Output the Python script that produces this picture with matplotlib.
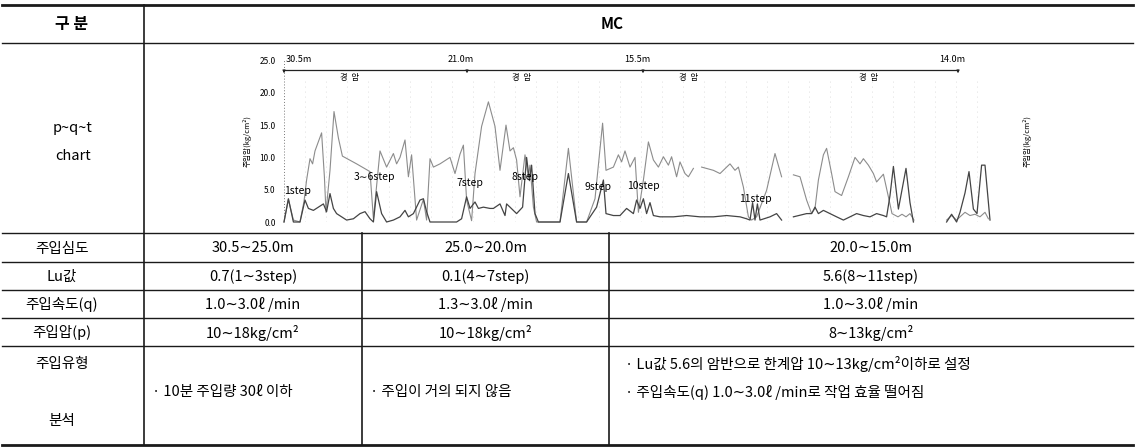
import matplotlib
matplotlib.use("Agg")
import matplotlib.pyplot as plt
import numpy as np

plt.rcParams['font.family'] = ['Noto Sans CJK KR', 'DejaVu Sans']

nan = np.nan
# ---------------- chart data (time in min, value) ----------------
p_t = [0, 2.2, 4.7, 8, 10, 11.3, 13, 14.3, 15.5, 18.8, 20.2, 21, 23, 25, 27.2, 29.2,
       36.3, 43, 44.7, 48, 51.3, 54.7, 56.3, 58, 60.5, 62.2, 63.8, 66.3, 69.7, 71.3,
       73, 74.7, 78, 83, 85.5, 88, 89.7, 91.3, 93.8, 95.5, 98.8, 102.2, 105.5, 108,
       111, 113, 114.7, 116.3, 118, 120.5, 122.2, 123, 124.7, 126.3, 138, 142.2,
       146.3, 151.3, 155.5, 159.3, 161, 164.7, 167.2, 168.8, 170.5, 173, 175.5, 177.2,
       179.7, 182.2, 184.7, 187.2, 189.7, 192.2, 193.8, 196.3, 198, 200.5, 202.2,
       204.7, 206.5, 208.8, 214.7, 218, 221.3, 223, 225.5, 227.2, 229.7, 232.2, 233.8,
       236.3, 241.3, 245.5, 248.8, 251.5, 254.7, 258, 261.3, 263.8, 265.5, 267.2,
       269.7, 271.3, 273.8, 275.5, 278.8, 282.2, 285.5, 288, 289.7, 292.2, 294.7,
       296.3, 299.7, 302.2, 304, 307, 309, 311, 313, 315, 322, 331.3, 333.8, 336.3,
       338, 340.5, 343, 345.5, 348, 350.5, 352.2]
p_v = [0, 3.5, 0.3, 0, 3.2, 6.5, 9.8, 9.0, 11.0, 13.8, 7.0, 1.5, 8.0, 17.1, 13.0, 10.2,
       9.0, 7.8, 0.5, 11.0, 8.5, 10.6, 9.0, 10.0, 12.7, 7.0, 10.4, 0.3, 3.5, 0.3,
       9.8, 8.5, 9.0, 10.0, 7.5, 10.5, 11.9, 3.4, 0.2, 7.5, 14.8, 18.6, 14.8, 8.0,
       15.0, 11.0, 11.5, 9.6, 3.9, 10.4, 7.0, 8.8, 2.3, 0, 0, 11.4,
       0, 0, 3.6, 15.3, 8.0, 8.5, 10.4, 9.3, 11.0, 8.5, 10.0, 1.5,
       6.5, 12.4, 9.6, 8.5, 10.1, 8.8, 10.1, 7.0, 9.3, 7.5, 7.0,
       8.3, nan, 8.5, 8.0, 7.5, 8.5, 9.0, 8.0, 8.5, 5.4, 0.8, 0.3,
       0.8, 4.9, 10.6, 7.0, nan, 7.3, 7.0, 3.4, 1.3, 2.1, 6.5,
       10.4, 11.4, 7.5, 4.7, 4.1, 7.0, 10.0, 9.0, 9.8, 8.8, 7.5,
       6.2, 7.4, 3.9, 1.3, 0.8, 1.2, 0.8, 1.3, 0.3, nan, 0.3, 1.0, 0.3,
       0.8, 1.5, 1.0, 1.2, 0.8, 1.5, 0.5]
q_t = [0, 2.2, 4.7, 8, 10.5, 12.2, 14.7, 17.2, 19.7, 21.3, 23, 24.7, 26.3, 28.8, 31.3,
       34.7, 38, 40.5, 43, 44.7, 46.3, 48.8, 51.3, 54.7, 58, 60.5, 62.2, 64.7, 68,
       69.7, 71.3, 73, 76.3, 86.3, 88.8, 91.3, 93, 95.5, 97.2, 99.7, 103, 104.7,
       108, 110.5, 111.3, 113, 116.3, 119.3, 121.3, 122.7, 123.8, 125.5, 127.2, 138,
       142.2, 146.3, 151.3, 156.3, 159.7, 161, 164.7, 168, 171.3, 174.7, 176.3, 178,
       179.7, 181.3, 183, 184.7, 188, 194.7, 201.3, 208, 214.7, 221.3, 228, 231.3,
       233, 234.3, 235.5, 236.7, 238, 243, 246.3, 248.8, 251.5, 254.7, 261.3, 263.8,
       265.5, 267.2, 269.7, 273, 276.3, 279.7, 283, 286.3, 289.7, 293, 296.3, 299.7,
       301.3, 303, 304.7, 307.2, 311, 313, 314.7, 322, 331.3, 333.8, 336.3, 338,
       340.5, 342.5, 344.7, 346.5, 348.8, 350.5, 353]
q_v = [0, 3.6, 0, 0, 3.4, 2.1, 1.8, 2.3, 2.8, 1.6, 4.4, 2.1, 1.3, 0.8, 0.3,
       0.5, 1.3, 1.6, 0.5, 0, 4.7, 1.3, 0, 0.3, 0.8, 1.8, 0.8, 1.3, 3.4,
       3.6, 1.6, 0, 0, 0, 0.5, 3.9, 2.1, 3.1, 2.1, 2.3, 2.1, 2.1,
       2.8, 1.0, 2.8, 2.3, 1.3, 2.3, 10.0, 6.4, 8.8, 1.3, 0, 0,
       7.5, 0, 0, 2.3, 6.5, 1.3, 1.0, 1.0, 2.1, 1.3, 3.4, 2.1,
       3.6, 1.3, 3.0, 1.0, 0.8, 0.8, 1.0, 0.8, 0.8, 1.0, 0.8, 0.5,
       0.3, 3.0, 0.3, 2.8, 0.3, 0.8, 1.3, 0.3, nan, 0.8, 1.3, 1.3,
       2.3, 1.3, 1.8, 1.3, 0.8, 0.3, 0.8, 1.3, 1.0, 0.8, 1.3, 1.0,
       0.8, 4.1, 8.6, 2.0, 8.3, 3.0, 0, nan, 0, 1.2, 0, 1.5,
       4.5, 7.8, 2.0, 1.3, 8.8, 8.8, 0.3]

y_ticks = [0, 5, 10, 15, 20, 25]
depth_labels = ["30.5m", "21.0m", "15.5m", "14.0m"]
depth_t = [0, 91.5, 179.5, 337]
rock_labels = ["경  암", "경  암", "경  암", "경  암"]
rock_t = [33, 119, 202, 292]
step_labels = ["1step", "3∼6step", "7step", "8step", "9step", "10step", "11step"]
step_t = [7, 45, 93, 120.5, 157, 179.5, 235.5]
step_v = [4.8, 7.0, 6.0, 7.0, 5.4, 5.6, 3.6]

# ---------------- table data ----------------
header_left = "구 분"
header_right = "MC"
row_labels = ["주입심도", "Lu값", "주입속도(q)", "주입압(p)"]
depth_row = ["30.5∼25.0m", "25.0∼20.0m", "20.0∼15.0m"]
lu_row = ["0.7(1∼3step)", "0.1(4∼7step)", "5.6(8∼11step)"]
rate_row = ["1.0∼3.0ℓ /min", "1.3∼3.0ℓ /min", "1.0∼3.0ℓ /min"]
press_row = ["10∼18kg/cm²", "10∼18kg/cm²", "8∼13kg/cm²"]
analysis = [["· 10분 주입량 30ℓ 이하"],
            ["· 주입이 거의 되지 않음"],
            ["· Lu값 5.6의 암반으로 한계압 10∼13kg/cm²이하로 설정",
             "· 주입속도(q) 1.0∼3.0ℓ /min로 작업 효율 떨어짐"]]

W, H = 1135, 448
fig = plt.figure(figsize=(W / 100, H / 100), dpi=100)
tab = fig.add_axes([0, 0, 1, 1])
tab.set_xlim(0, W)
tab.set_ylim(H, 0)
tab.axis('off')

lc = '#1a1a1a'
x0, x1 = 2, 1133
col_x = [144, 362, 609]
row_y = [5, 43, 233, 262, 290, 318, 346, 445]
tab.plot([x0, x1], [row_y[0]] * 2, color=lc, lw=2.0)
tab.plot([x0, x1], [row_y[-1]] * 2, color=lc, lw=2.0)
for y in row_y[1:-1]:
    tab.plot([x0, x1], [y, y], color=lc, lw=1.0)
tab.plot([col_x[0]] * 2, [row_y[0], row_y[-1]], color=lc, lw=1.2)
for x in col_x[1:]:
    tab.plot([x, x], [row_y[2], row_y[-1]], color=lc, lw=1.2)

fs = 10.5
tab.text(72, 24, header_left, ha='center', va='center', fontsize=11.5, fontweight='bold')
tab.text(612, 24, header_right, ha='center', va='center', fontsize=11, fontweight='bold')
tab.text(73, 128, "p~q~t", ha='center', va='center', fontsize=fs)
tab.text(73, 156, "chart", ha='center', va='center', fontsize=fs)

col_centers = [(col_x[0] + col_x[1]) / 2, (col_x[1] + col_x[2]) / 2, (col_x[2] + x1) / 2]
rows = [depth_row, lu_row, rate_row, press_row]
for i, (lab, vals) in enumerate(zip(row_labels, rows)):
    yc = (row_y[2 + i] + row_y[3 + i]) / 2 + 1
    tab.text(62, yc, lab, ha='center', va='center', fontsize=fs)
    for cx, v in zip(col_centers, vals):
        tab.text(cx, yc, v, ha='center', va='center', fontsize=fs)

tab.text(62, 364, "주입유형", ha='center', va='center', fontsize=fs)
tab.text(62, 421, "분석", ha='center', va='center', fontsize=fs)
tab.text(col_x[0] + 8, 392, analysis[0][0], ha='left', va='center', fontsize=fs)
tab.text(col_x[1] + 8, 392, analysis[1][0], ha='left', va='center', fontsize=fs)
tab.text(col_x[2] + 16, 364, analysis[2][0], ha='left', va='center', fontsize=fs)
tab.text(col_x[2] + 16, 392, analysis[2][1], ha='left', va='center', fontsize=fs)

# ---------------- chart ----------------
ax = fig.add_axes([284 / W, (H - 222) / H, (992 - 284) / W, (222 - 60.5) / H])
ax.set_xlim(0, 354)
ax.set_ylim(0, 25)
ax.patch.set_alpha(0)
for s in ax.spines.values():
    s.set_visible(False)
ax.axvline(0, color='#777', lw=0.7, ls=(0, (1, 2)))
ax.axvline(354, color='#777', lw=0.7, ls=(0, (1, 2)))
for gx in np.arange(10.5, 350, 10.5):
    ax.axvline(gx, ymax=0.9, color='#d2d2d2', lw=0.6, ls=(0, (1, 5)))

ax.plot(p_t, p_v, color='#8c8c8c', lw=0.8, clip_on=False)
ax.plot(q_t, q_v, color='#444444', lw=0.9, clip_on=False)

ax.set_yticks(y_ticks)
ax.set_yticklabels([f"{v:.1f}" for v in y_ticks], fontsize=6)
ax.tick_params(axis='y', length=0, pad=6, labelright=True, labelleft=True)
ax.set_xticks([])
ax.set_ylabel("주입압(kg/cm²)", fontsize=5.5, labelpad=6)
ax2 = ax.twinx()
ax2.set_ylim(0, 25)
ax2.set_yticks([])
for s in ax2.spines.values():
    s.set_visible(False)
ax2.set_ylabel("주입압(kg/cm²)", fontsize=5.5, labelpad=22, rotation=90)

# depth bar
ax.plot([depth_t[0], depth_t[-1]], [23.5, 23.5], color='#222', lw=0.9, clip_on=False)
for t, lab in zip(depth_t, depth_labels):
    ax.annotate("", xy=(t, 22.6), xytext=(t, 23.9),
                arrowprops=dict(arrowstyle='-|>', color='#222', lw=0.7, mutation_scale=4),
                annotation_clip=False)
    ha = 'left' if t == depth_t[0] else 'center'
    ax.text(t + (1 if ha == 'left' else -3), 25.2, lab, ha=ha, va='center', fontsize=6.5)
for t, lab in zip(rock_t, rock_labels):
    ax.text(t, 22.4, lab, ha='center', va='center', fontsize=6)
for t, v, lab in zip(step_t, step_v, step_labels):
    ax.text(t, v, lab, ha='center', va='center', fontsize=7.5)

fig.savefig("out.png", dpi=100)
